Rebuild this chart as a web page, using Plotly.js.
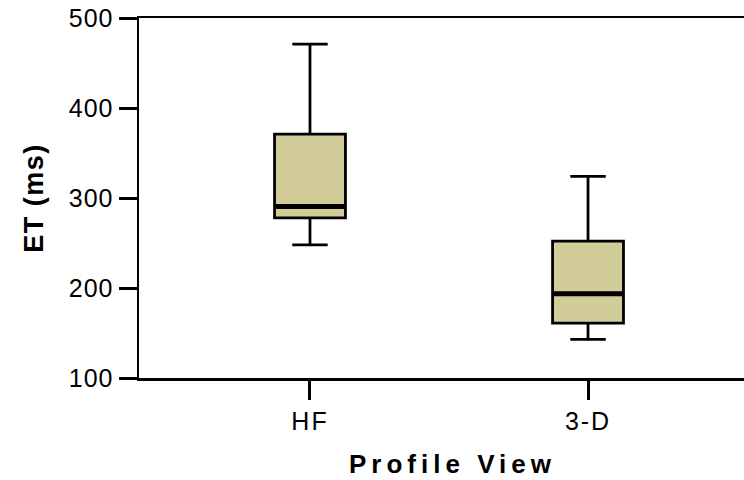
<!DOCTYPE html>
<html><head>
<meta charset="utf-8">
<script src="https://cdn.plot.ly/plotly-3.0.1.min.js"></script>
<style>
body{margin:0;background:#fff}
.annotation-text{letter-spacing:5px}
.xtick text{letter-spacing:2px}
.ytick text{letter-spacing:1px}
.ytitle{letter-spacing:1.5px}
</style>
</head><body>
<div id="chart" style="width:744px;height:480px"></div>
<script>
const categories = ["HF", "3-D"];
const lowerWhisker = [248, 143];
const q1 = [278, 161];
const median = [290.5, 193.5];
const q3 = [371, 252];
const upperWhisker = [471, 324];
const yTicks = [100, 200, 300, 400, 500];
const xTitle = "Profile View";
const yTitle = "ET (ms)";

const boxWidth = 0.255;

const trace = {
  type: "box",
  x: categories,
  q1: q1,
  median: median,
  q3: q3,
  lowerfence: lowerWhisker,
  upperfence: upperWhisker,
  width: boxWidth,
  whiskerwidth: 0.5,
  fillcolor: "rgb(210,204,152)",
  line: {color: "#000", width: 2.8},
  hoverinfo: "skip",
  showlegend: false
};

const medianShapes = categories.map((c, i) => ({
  type: "line", xref: "x", yref: "y",
  x0: i - boxWidth / 2, x1: i + boxWidth / 2,
  y0: median[i], y1: median[i],
  line: {color: "#000", width: 5}
}));

const layout = {
  width: 744, height: 480,
  margin: {l: 139, r: 0, t: 18, b: 102},
  paper_bgcolor: "#fff", plot_bgcolor: "#fff",
  font: {family: "Liberation Sans, Arial, sans-serif", color: "#000"},
  showlegend: false,
  xaxis: {
    type: "category",
    range: [-0.615, 1.561],
    showline: true, linecolor: "#000", linewidth: 2.5, mirror: true,
    ticks: "outside", ticklen: 19, tickwidth: 3, tickcolor: "#000",
    showgrid: false, zeroline: false,
    tickfont: {size: 25}
  },
  yaxis: {
    range: [100, 500],
    tickvals: yTicks,
    showline: true, linecolor: "#000", linewidth: 2.5,
    ticks: "outside", ticklen: 18, tickwidth: 3, tickcolor: "#000",
    showgrid: false, zeroline: false,
    tickfont: {size: 25},
    title: {text: yTitle, font: {size: 27, weight: "bold"}, standoff: 18}
  },
  annotations: [{
    text: xTitle, xref: "paper", yref: "paper",
    x: 0.519, y: -0.239, xanchor: "center", yanchor: "middle",
    showarrow: false, font: {size: 26, weight: "bold", color: "#000"}
  }],
  shapes: medianShapes
};

Plotly.newPlot("chart", [trace], layout, {displayModeBar: false, staticPlot: true});
</script>
</body></html>
